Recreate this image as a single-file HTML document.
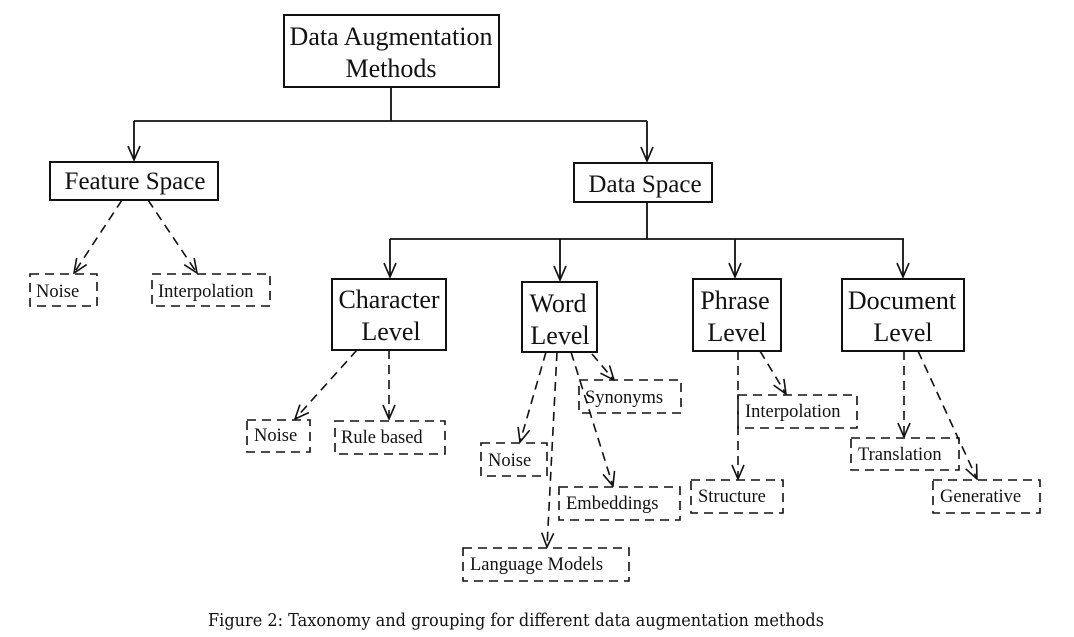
<!DOCTYPE html>
<html><head><meta charset="utf-8"><style>
html,body{margin:0;padding:0;background:#fff;}
svg{display:block;}
text{font-family:"Liberation Serif",serif;fill:#111;}
</style></head><body>
<svg width="1074" height="637" viewBox="0 0 1074 637" xmlns="http://www.w3.org/2000/svg">
<defs>
<marker id="b" markerWidth="16" markerHeight="14" refX="15" refY="7" orient="auto" markerUnits="userSpaceOnUse" viewBox="0 0 16 14">
<path d="M1,1 L15,7 L1,13" fill="none" stroke="#111" stroke-width="1.6"/>
</marker>
</defs>
<g fill="none" stroke="#111" stroke-width="2">
<rect x="284" y="15" width="215" height="72"/>
<rect x="50" y="162" width="168" height="38"/>
<rect x="574" y="163" width="138" height="39"/>
<rect x="332" y="279" width="114" height="71"/>
<rect x="522" y="282" width="75" height="70"/>
<rect x="693" y="279" width="88" height="72"/>
<rect x="842" y="279" width="122" height="72"/>
</g>
<g fill="none" stroke="#111" stroke-width="1.8">
<path d="M391,87 V121 M134,121 H647 M390,239 H904 M647,202 V239"/>
<path d="M134,121 V160" marker-end="url(#b)"/>
<path d="M647,121 V161" marker-end="url(#b)"/>
<path d="M390,239 V277" marker-end="url(#b)"/>
<path d="M560,239 V280" marker-end="url(#b)"/>
<path d="M735,239 V277" marker-end="url(#b)"/>
<path d="M903,239 V277" marker-end="url(#b)"/>
</g>
<g fill="none" stroke="#111" stroke-width="1.6" stroke-dasharray="9,6">
<rect x="30" y="274" width="67" height="32"/>
<rect x="152" y="274" width="118" height="32"/>
<rect x="247" y="420" width="63" height="32"/>
<rect x="335" y="421" width="110" height="33"/>
<rect x="579" y="380" width="102" height="33"/>
<rect x="481" y="443" width="66" height="33"/>
<rect x="559" y="487" width="121" height="33"/>
<rect x="463" y="548" width="166" height="33"/>
<rect x="738" y="395" width="119" height="33"/>
<rect x="691" y="480" width="92" height="33"/>
<rect x="851" y="438" width="108" height="32"/>
<rect x="933" y="480" width="107" height="33"/>
</g>
<g fill="none" stroke="#111" stroke-width="1.6" stroke-dasharray="9,6">
<path d="M122,200 L74,273" marker-end="url(#b)"/>
<path d="M148,200 L197,273" marker-end="url(#b)"/>
<path d="M357,350 L295,419" marker-end="url(#b)"/>
<path d="M389,350 V419" marker-end="url(#b)"/>
<path d="M546,352 L520,442" marker-end="url(#b)"/>
<path d="M557,352 L547,547" marker-end="url(#b)"/>
<path d="M571,352 L613,486" marker-end="url(#b)"/>
<path d="M592,354 L614,380" marker-end="url(#b)"/>
<path d="M738,351 V479" marker-end="url(#b)"/>
<path d="M760,351 L786,394" marker-end="url(#b)"/>
<path d="M904,351 V437" marker-end="url(#b)"/>
<path d="M918,351 L977,479" marker-end="url(#b)"/>
</g>
<g font-size="26" text-anchor="middle">
<text x="391" y="45">Data Augmentation</text>
<text x="391" y="77">Methods</text>
<text x="135" y="189" font-size="25">Feature Space</text>
<text x="645" y="192" font-size="25">Data Space</text>
<text x="389" y="308">Character</text>
<text x="391" y="340">Level</text>
<text x="558" y="312">Word</text>
<text x="560" y="344">Level</text>
<text x="735" y="309">Phrase</text>
<text x="737" y="341">Level</text>
<text x="902" y="309">Document</text>
<text x="903" y="341">Level</text>
</g>
<g font-size="18.5">
<text x="36" y="297">Noise</text>
<text x="158" y="297">Interpolation</text>
<text x="254" y="441">Noise</text>
<text x="341" y="443">Rule based</text>
<text x="585" y="403">Synonyms</text>
<text x="488" y="466">Noise</text>
<text x="566" y="509">Embeddings</text>
<text x="470" y="570">Language Models</text>
<text x="745" y="417">Interpolation</text>
<text x="698" y="502">Structure</text>
<text x="858" y="460">Translation</text>
<text x="940" y="502">Generative</text>
</g>
<text x="208" y="626" font-size="18" style="font-family:'DejaVu Serif','Liberation Serif',serif" textLength="616" lengthAdjust="spacingAndGlyphs">Figure 2: Taxonomy and grouping for different data augmentation methods</text>
</svg>
</body></html>
